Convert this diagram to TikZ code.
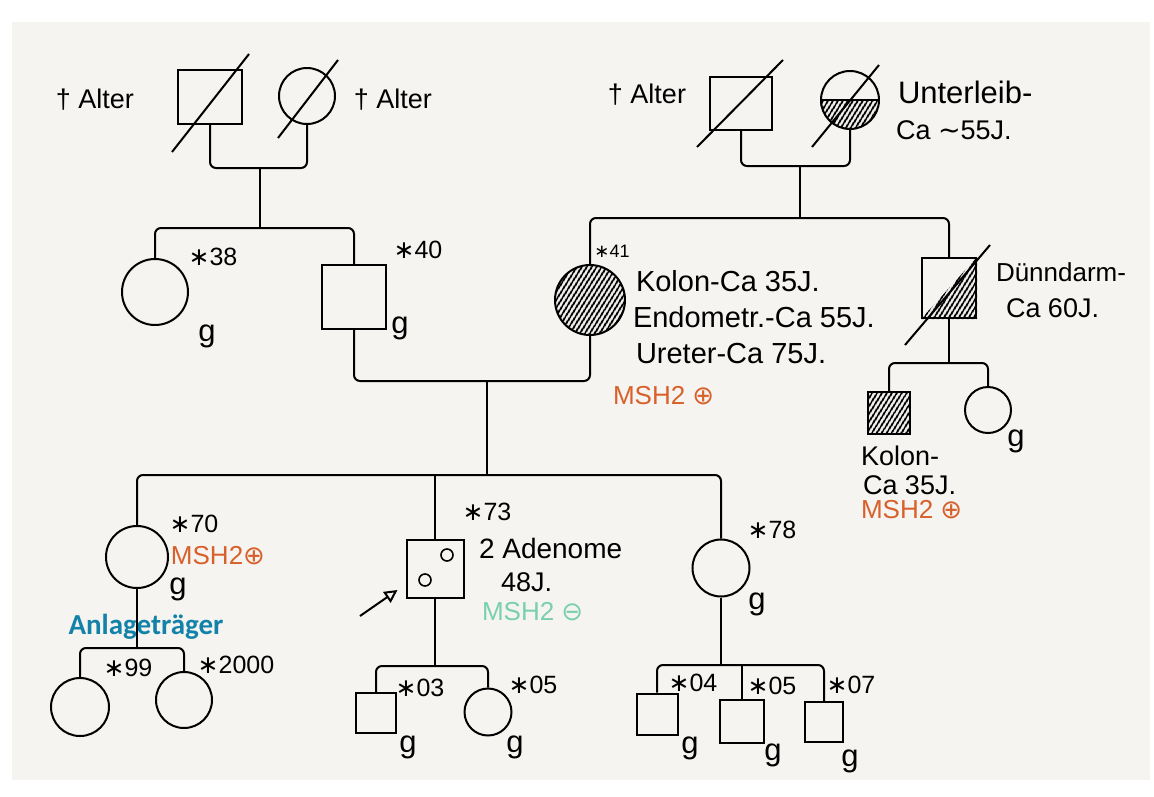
\documentclass[tikz,border=0pt]{standalone}
\usepackage{fontspec}
\setmainfont{Liberation Sans}
\newfontfamily\symf{DejaVu Sans}
\newfontfamily\labf{Carlito}
\usetikzlibrary{calc,patterns.meta,arrows.meta}
\definecolor{bgc}{HTML}{F5F4F1}
\definecolor{msho}{HTML}{D8602A}
\definecolor{mshg}{HTML}{79CFAF}
\definecolor{anl}{HTML}{1282A9}
\newcommand{\bd}{{\symf∗}}
\begin{document}
\begin{tikzpicture}[x=1pt,y=-1pt,line width=2pt,
  pers/.style={draw=black,line width=2pt,inner sep=0pt},
  male/.style={pers,rectangle},
  female/.style={pers,circle},
  link/.style={draw=black,line width=2pt,rounded corners=6pt},
  hatch/.style={pattern={Lines[angle=58,distance=4pt,line width=2.4pt]},pattern color=black},
  txt/.style={font=\fontsize{27}{30}\selectfont,inner sep=0pt,text=black},
  lbl/.style={txt,anchor=west},
  big/.style={lbl,font=\fontsize{29}{32}\selectfont},
  gg/.style={font=\fontsize{31}{34}\selectfont,inner sep=0pt,text=black},
  sml/.style={font=\fontsize{25}{28}\selectfont,inner sep=0pt,text=black},
  dec/.style={draw=black,line width=2pt},
  orng/.style={font=\fontsize{26}{30}\selectfont,inner sep=0pt,text=msho},
  grn/.style={font=\fontsize{26}{30}\selectfont,inner sep=0pt,text=mshg}]
\useasboundingbox (0,0) rectangle (1154,796);
\fill[white] (0,0) rectangle (1154,796);
\fill[bgc] (12,22) rectangle (1150,780);

% ---------- generation I ----------
\node[male,minimum width=64pt,minimum height=54pt] (i1) at (210,97) {};
\node[female,minimum size=56pt] (i2) at (307,96) {};
\node[male,minimum width=62pt,minimum height=53pt] (i3) at (741,103.5) {};
\node[female,minimum size=58pt] (i4) at (850,100) {};
\path[hatch] (i4.west) arc[start angle=180,end angle=360,radius=29pt] -- cycle;
\draw[dec] (i4.west) -- (i4.east);
\draw[dec] ($(i1.center)+(-38,55)$) -- ($(i1.center)+(39,-43)$);
\draw[dec] ($(i2.center)+(-29,42)$) -- ($(i2.center)+(31,-36)$);
\draw[dec] ($(i3.center)+(-44,43.5)$) -- ($(i3.center)+(42,-43.5)$);
\draw[dec] ($(i4.center)+(-38,47)$) -- ($(i4.center)+(29,-35)$);

\node[txt] (t1) at (95,100) {† Alter};
\node[txt] (t2) at (393,100) {† Alter};
\node[txt] (t3) at (647,95) {† Alter};
\node[lbl,font=\fontsize{31}{34}\selectfont] (t4) at (897,92) {Unterleib-};
\node[lbl] (t5) at (895,130) {Ca {\symf ∼}55J.};

% ---------- generation II ----------
\node[female,minimum size=66pt] (ii1) at (155,292) {};
\node[male,minimum size=64pt] (ii2) at (354,297) {};
\node[female,minimum size=70pt,hatch] (ii3) at (590,300) {};
\node[male,minimum width=54pt,minimum height=60pt] (ii4) at (949,288) {};
\path[hatch] (ii4.south west) -- (ii4.south east) -- (ii4.north east) -- cycle;
\draw[dec] ($(ii4.center)+(-44,57)$) -- ($(ii4.center)+(41,-43)$);

\node[sml] (b38) at (213,257) {\bd38};
\node[gg] (g38) at (207,336) {g};
\node[sml] (b40) at (418,250) {\bd40};
\node[gg] (g40) at (400,328) {g};
\node[font=\fontsize{18}{20}\selectfont,inner sep=0pt] (b41) at (612,251) {\bd41};
\node[big] (k1) at (635,281) {Kolon-Ca 35J.};
\node[big] (k2) at (632,317) {Endometr.-Ca 55J.};
\node[big] (k3) at (635,354) {Ureter-Ca 75J.};
\node[orng,anchor=west] (m41) at (612,396) {MSH2 {\symf ⊕}};
\node[lbl,font=\fontsize{26}{30}\selectfont] (d1) at (995,272) {Dünndarm-};
\node[lbl] (d2) at (1005,308) {Ca 60J.};

% ---------- children of II-4 ----------
\node[male,minimum size=42pt,hatch] (iii4) at (889,413) {};
\node[female,minimum size=46pt] (iii5) at (988,410) {};
\node[gg] (g5) at (1016,441) {g};
\node[lbl] (c1) at (860,456) {Kolon-};
\node[lbl] (c2) at (862,485) {Ca 35J.};
\node[orng,anchor=west] (c3) at (860,510) {MSH2 {\symf ⊕}};

% ---------- generation III ----------
\node[female,minimum size=62pt] (iii1) at (137,557) {};
\node[male,minimum width=57pt,minimum height=58pt] (iii2) at (435,569) {};
\node[female,minimum size=57pt] (iii3) at (721,568) {};
\node[pers,circle,minimum size=12pt,line width=1.6pt] (ad1) at (447,555) {};
\node[pers,circle,minimum size=12pt,line width=1.6pt] (ad2) at (425,580) {};
\coordinate (pb) at (360,616);
\draw[line width=2pt,-{Triangle[open,length=13pt,width=13pt]}] (pb) -- ($(iii2.south west)+(-8,-9)$);

\node[sml] (b70) at (194,524) {\bd70};
\node[orng] (m70) at (218,556) {MSH2{\symf ⊕}};
\node[gg] (g70) at (178,589) {g};
\node[font=\labf\bfseries\fontsize{29}{32}\selectfont,text=anl,inner sep=0pt] (anlt) at (146,627) {Anlageträger};
\node[sml] (b73) at (487,512) {\bd73};
\node[lbl,font=\fontsize{28}{31}\selectfont] (a1) at (478,548) {2 Adenome};
\node[lbl] (a2) at (500,582) {48J.};
\node[grn,anchor=west] (a3) at (481,612) {MSH2 {\symf ⊖}};
\node[sml] (b78) at (772,530) {\bd78};
\node[gg] (g78) at (757,604) {g};

% ---------- generation IV ----------
\node[female,minimum size=58pt] (iv1) at (80,707) {};
\node[female,minimum size=56pt] (iv2) at (184,700) {};
\node[male,minimum size=40pt] (iv3) at (376,713) {};
\node[female,minimum size=47pt] (iv4) at (488,712) {};
\node[male,minimum size=41pt] (iv5) at (657,714) {};
\node[male,minimum width=44pt,minimum height=43pt] (iv6) at (742,721) {};
\node[male,minimum width=38pt,minimum height=40pt] (iv7) at (824,722) {};

\node[sml] (b99) at (128,668) {\bd99};
\node[sml] (b00) at (236,665) {\bd2000};
\node[sml] (b03) at (420,688) {\bd03};
\node[gg] (g03) at (408,747) {g};
\node[sml] (b05) at (533,685) {\bd05};
\node[gg] (g05) at (515,747) {g};
\node[sml] (b04) at (693,683) {\bd04};
\node[gg] (g04) at (690,748) {g};
\node[sml] (b05b) at (772,686) {\bd05};
\node[gg] (g05b) at (773,755) {g};
\node[sml] (b07) at (851,685) {\bd07};
\node[gg] (g07) at (850,761) {g};

% ---------- connectors ----------
\coordinate (m1) at (260,168);
\coordinate (s1) at (260,228);
\draw[link] (i1.south) |- (m1) -| (i2.south);
\draw[link] (m1) -- (s1);
\draw[link] (ii1.north) |- (s1) -| (ii2.north);

\coordinate (m2) at (800,166);
\coordinate (s2) at (800,218);
\draw[link] (i3.south) |- (m2) -| (i4.south);
\draw[link] (m2) -- (s2);
\draw[link] (ii3.north) |- (s2) -| (ii4.north);

\coordinate (m3) at (487,381);
\coordinate (s3) at (487,475);
\draw[link] (ii2.south) |- (m3) -| (ii3.south);
\draw[link] (m3) -- (s3);
\draw[link] (iii1.north) |- (s3) -| (iii3.north);
\draw[link] (iii2.north) -- (iii2.north |- s3);

\coordinate (s4) at (949,363);
\draw[link] (ii4.south) -- (s4);
\draw[link] (iii4.north) |- (s4) -| (iii5.north);

\coordinate (s5) at (137,648);
\draw[link] (iii1.south) -- (s5);
\draw[link] (iv1.north) |- (s5) -| (iv2.north);

\coordinate (s6) at (435,666);
\draw[link] (iii2.south) -- (s6);
\draw[link] (iv3.north) |- (s6) -| (iv4.north);

\coordinate (s7) at (721,665);
\draw[link] (iii3.south) -- (s7);
\draw[link] (iv5.north) |- (s7) -| (iv7.north);
\draw[link] (iv6.north) -- (iv6.north |- s7);
\end{tikzpicture}
\end{document}
